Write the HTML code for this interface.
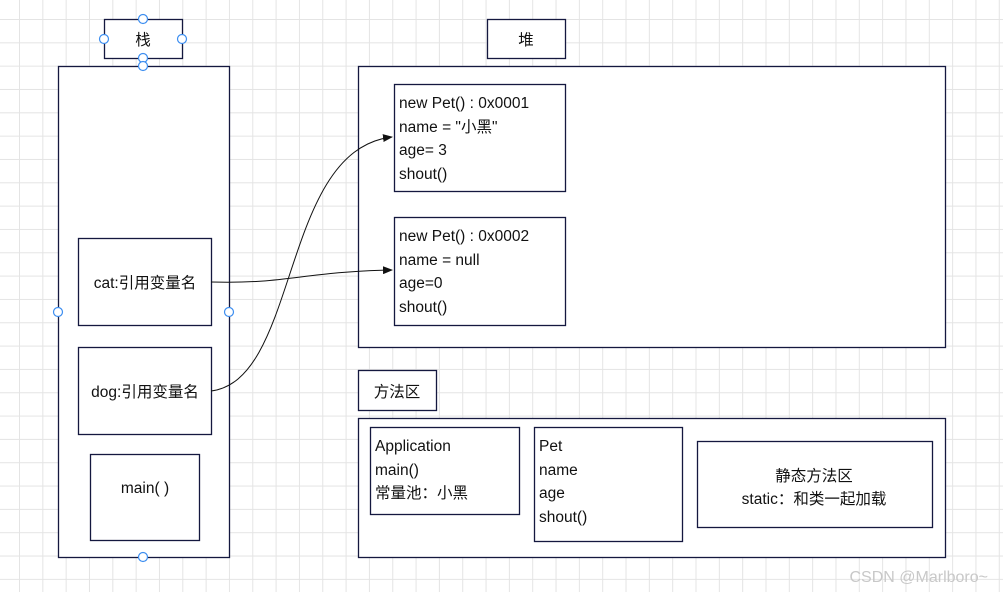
<!DOCTYPE html>
<html><head><meta charset="utf-8"><style>
html,body{margin:0;padding:0;background:#fff;}
body{width:1003px;height:592px;overflow:hidden;
background-image:linear-gradient(to right,#e4e4e4 1px,transparent 1px),linear-gradient(to bottom,#e4e4e4 1px,transparent 1px);
background-size:23.33px 23.33px;background-position:19px 19px;}
svg{position:absolute;left:0;top:0;}
text{font-family:"Liberation Sans","Noto Sans CJK SC",sans-serif;font-size:15.5px;fill:#111;}
</style></head><body>
<svg width="1003" height="592" viewBox="0 0 1003 592">
<defs><marker id="a" markerWidth="10" markerHeight="8" refX="9" refY="4" orient="auto" markerUnits="userSpaceOnUse"><path d="M0,0 L10,4 L0,8 z" fill="#111"/></marker></defs>
<g fill="#fff" stroke="#14183f" stroke-width="1.3">
<rect x="104.5" y="19.5" width="78" height="39"/>
<rect x="58.5" y="66.5" width="171" height="491"/>
<rect x="78.5" y="238.5" width="133" height="87"/>
<rect x="78.5" y="347.5" width="133" height="87"/>
<rect x="90.5" y="454.5" width="109" height="86"/>
<rect x="487.5" y="19.5" width="78" height="39"/>
<rect x="358.5" y="66.5" width="587" height="281"/>
<rect x="394.5" y="84.5" width="171" height="107"/>
<rect x="394.5" y="217.5" width="171" height="108"/>
<rect x="358.5" y="370.5" width="78" height="40"/>
<rect x="358.5" y="418.5" width="587" height="139"/>
<rect x="370.5" y="427.5" width="149" height="87"/>
<rect x="534.5" y="427.5" width="148" height="114"/>
<rect x="697.5" y="441.5" width="235" height="86"/>
</g>
<g fill="none" stroke="#111" stroke-width="1">
<path d="M211,282 C290,284 300,272 392,270" marker-end="url(#a)"/>
<path d="M211,391 C300,380 280,150 392,137" marker-end="url(#a)"/>
</g>
<g fill="#fff" stroke="#3d8ef0" stroke-width="1.2">
<circle cx="143" cy="19" r="4.5"/><circle cx="104" cy="39" r="4.5"/><circle cx="182" cy="39" r="4.5"/>
<circle cx="143" cy="58" r="4.5"/><circle cx="143" cy="66" r="4.5"/>
<circle cx="58" cy="312" r="4.5"/><circle cx="229" cy="312" r="4.5"/><circle cx="143" cy="557" r="4.5"/>
</g>
<text x="143" y="45" text-anchor="middle">栈</text>
<text x="526" y="45" text-anchor="middle">堆</text>
<text x="397" y="397" text-anchor="middle">方法区</text>
<text x="145" y="288" text-anchor="middle">cat:引用变量名</text>
<text x="145" y="397" text-anchor="middle">dog:引用变量名</text>
<text x="145" y="493" text-anchor="middle">main( )</text>
<text x="399" y="108">new Pet() : 0x0001</text>
<text x="399" y="132">name = "小黑"</text>
<text x="399" y="155">age= 3</text>
<text x="399" y="179">shout()</text>
<text x="399" y="241">new Pet() : 0x0002</text>
<text x="399" y="265">name = null</text>
<text x="399" y="288">age=0</text>
<text x="399" y="312">shout()</text>
<text x="375" y="451">Application</text>
<text x="375" y="475">main()</text>
<text x="375" y="498">常量池：小黑</text>
<text x="539" y="451">Pet</text>
<text x="539" y="475">name</text>
<text x="539" y="498">age</text>
<text x="539" y="522">shout()</text>
<text x="814" y="481" text-anchor="middle">静态方法区</text>
<text x="814" y="504" text-anchor="middle">static：和类一起加载</text>
<text x="988" y="582" text-anchor="end" style="fill:#c8c8c8;font-size:16px">CSDN @Marlboro~</text>
</svg>
</body></html>
